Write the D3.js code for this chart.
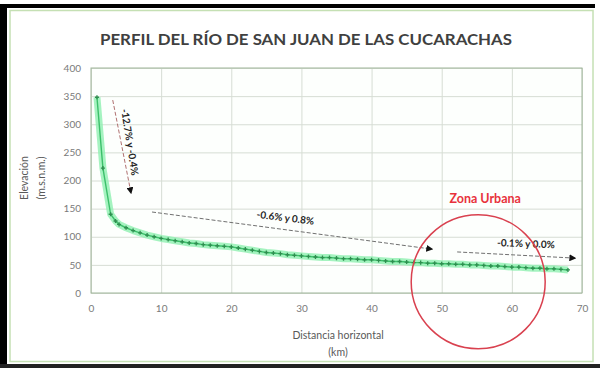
<!DOCTYPE html>
<html><head><meta charset="utf-8">
<script src="https://cdn.jsdelivr.net/npm/d3@7"></script>
<style>body{margin:0;background:#fff}svg{display:block;font-family:Lato,"Open Sans",sans-serif}</style>
</head><body><svg id="c" width="600" height="368"></svg>
<script>
const title = "PERFIL DEL RÍO DE SAN JUAN DE LAS CUCARACHAS";
const xTicks = [0,10,20,30,40,50,60,70];
const yTicks = [0,50,100,150,200,250,300,350,400];
const distKm = [0.85,1.7,2.8,3.5,4,5,6,7,8,9,10,11,12,13,14,15,16,17,18,19,20,21,22,23,24,25,26,27,28,29,30,31,32,33,34,35,36,37,38,39,40,41,42,43,44,45,46,47,48,49,50,51,52,53,54,55,56,57,58,59,60,61,62,63,64,65,66,67,68];
const elevM = [348,222,140,128,122,116,111,107,103,100,97,95,93,91,89,88,86,85,84,83,82,80,78,76,74,72,71,70,68,67,66,65,64,63,63,62,61,61,60,59,59,58,57,56,56,55,54,54,53,53,52,52,51,51,50,50,49,48,48,47,46,46,45,44,44,43,43,42,41];
const slopeLabels = ["-12.7% y -0.4%","-0.6% y 0.8%","-0.1% y 0.0%"];
const zoneLabel = "Zona Urbana";

const svg = d3.select("#c");
// frame
svg.append("rect").attr("x",0).attr("y",0).attr("width",600).attr("height",368).attr("fill","#fff");
svg.append("rect").attr("x",0).attr("y",4).attr("width",595).attr("height",4).attr("fill","#000");
svg.append("rect").attr("x",0).attr("y",4).attr("width",7).attr("height",364).attr("fill","#000");
svg.append("rect").attr("x",0).attr("y",364).attr("width",600).attr("height",4).attr("fill","#222");
svg.append("rect").attr("x",10).attr("y",10.5).attr("width",583).attr("height",351).attr("fill","#fff").attr("stroke","#c5e0b4").attr("stroke-width",1.5);

const x = d3.scaleLinear().domain([0,70]).range([91,582]);
const y = d3.scaleLinear().domain([0,400]).range([293,68]);

// plot area
svg.append("rect").attr("x",91).attr("y",68).attr("width",491).attr("height",225).attr("fill","#fdfffd");
const gx = svg.append("g").attr("transform","translate(0,293)")
  .call(d3.axisBottom(x).tickValues(xTicks).tickSize(-225).tickPadding(12).tickFormat(d3.format("d")));
const gy = svg.append("g").attr("transform","translate(91,0)")
  .call(d3.axisLeft(y).tickValues(yTicks).tickSize(-491).tickPadding(10).tickFormat(d3.format("d")));
[gx,gy].forEach(g=>{
  g.select(".domain").remove();
  g.selectAll(".tick line").attr("stroke","#d6ddd4").attr("stroke-width",1);
  g.selectAll(".tick text").attr("fill","#7a7a7a").attr("font-size",10).attr("font-family","Lato,sans-serif");
});
svg.append("rect").attr("x",91).attr("y",68).attr("width",491).attr("height",225).attr("fill","none").attr("stroke","#9fb59a").attr("stroke-width",1);

// axis titles
svg.append("text").attr("x",338).attr("y",339).attr("text-anchor","middle").attr("font-size",10.5).attr("fill","#595959").text("Distancia horizontal");
svg.append("text").attr("x",338).attr("y",356).attr("text-anchor","middle").attr("font-size",10.5).attr("fill","#595959").text("(km)");
svg.append("text").attr("transform","translate(28,178) rotate(-90)").attr("text-anchor","middle").attr("font-size",10.5).attr("fill","#595959").text("Elevación");
svg.append("text").attr("transform","translate(45,178) rotate(-90)").attr("text-anchor","middle").attr("font-size",10.5).attr("fill","#595959").text("(m.s.n.m.)");

// title
svg.append("text").attr("x",306).attr("y",45).attr("text-anchor","middle").attr("font-size",14.5).attr("font-weight","bold").attr("fill","#404040")
  .attr("textLength",412).attr("lengthAdjust","spacingAndGlyphs").text(title);

// series
const data = distKm.map((d,i)=>[d,elevM[i]]);
const line = d3.line().x(d=>x(d[0])).y(d=>y(d[1]));
svg.append("path").datum(data).attr("d",line).attr("fill","none").attr("stroke","#8ff0b0").attr("stroke-width",7).attr("stroke-opacity",0.8).attr("stroke-linejoin","round");
svg.append("path").datum(data).attr("d",line).attr("fill","none").attr("stroke","#3cbf6a").attr("stroke-width",1.4);
svg.selectAll(".mk").data(data).enter().append("path").attr("class","mk")
  .attr("transform",d=>`translate(${x(d[0])},${y(d[1])})`)
  .attr("d",d3.symbol(d3.symbolCross,9)).attr("fill","#2f8f50");

// arrows
svg.append("defs").append("marker").attr("id","ah").attr("viewBox","0 0 10 10").attr("refX",8).attr("refY",5)
  .attr("markerWidth",7).attr("markerHeight",7).attr("orient","auto-start-reverse")
  .append("path").attr("d","M0,0L10,5L0,10Z").attr("fill","#111");
const arrows = [
  {from:[3.1,343],to:[5.7,178],color:"#b07070"},
  {from:[8.7,144],to:[48.6,78],color:"#707070"},
  {from:[52.2,73],to:[69.0,62],color:"#707070"}
];
arrows.forEach(a=>{
  svg.append("line").attr("x1",x(a.from[0])).attr("y1",y(a.from[1])).attr("x2",x(a.to[0])).attr("y2",y(a.to[1]))
    .attr("stroke",a.color).attr("stroke-width",1).attr("stroke-dasharray","4,2").attr("marker-end","url(#ah)");
});
const labelPos = [
  {p:[5.4,268],rot:81},
  {p:[27.7,132],rot:7},
  {p:[62.0,86],rot:2}
];
labelPos.forEach((l,i)=>{
  svg.append("text").attr("transform",`translate(${x(l.p[0])},${y(l.p[1])}) rotate(${l.rot})`)
    .attr("text-anchor","middle").attr("dominant-baseline","middle").attr("font-size",10).attr("font-weight","bold")
    .attr("fill","#262626").text(slopeLabels[i]);
});

// urban zone
svg.append("circle").attr("cx",x(55.2)).attr("cy",y(20)).attr("r",67).attr("fill","none").attr("stroke","#d9414f").attr("stroke-width",1.5);
svg.append("text").attr("x",x(56.2)).attr("y",y(165)).attr("text-anchor","middle").attr("dominant-baseline","middle")
  .attr("font-size",12.5).attr("font-weight","bold").attr("fill","#e8323c").text(zoneLabel);
</script></body></html>
